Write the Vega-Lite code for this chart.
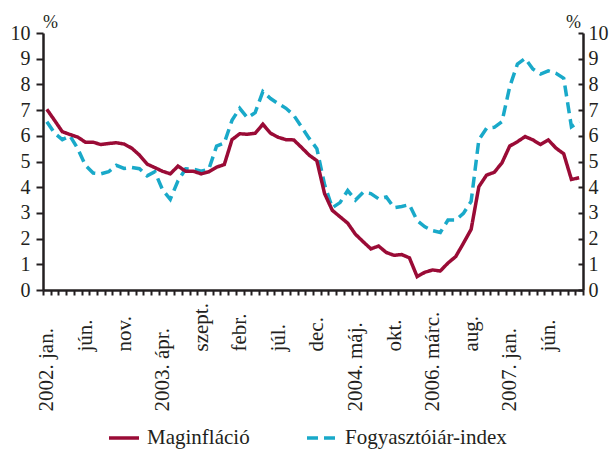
{
  "$schema": "https://vega.github.io/schema/vega-lite/v6.json",
  "width": 540,
  "height": 257,
  "autosize": {"type": "none"},
  "padding": {"left": 43, "top": 33, "right": 32, "bottom": 159},
  "background": "white",
  "config": {
    "view": {"stroke": null},
    "font": "Liberation Serif",
    "axis": {"labelFont": "Liberation Serif", "titleFont": "Liberation Serif", "labelColor": "#231f20", "titleColor": "#231f20", "domainColor": "#231f20", "tickColor": "#231f20", "grid": false},
    "legend": {"labelFont": "Liberation Serif", "labelColor": "#231f20"}
  },
  "data": {"values": [
    {"i":0,"s":"M","v":7.03},{"i":1,"s":"M","v":6.6},{"i":2,"s":"M","v":6.16},{"i":3,"s":"M","v":6.05},{"i":4,"s":"M","v":5.95},{"i":5,"s":"M","v":5.75},{"i":6,"s":"M","v":5.75},{"i":7,"s":"M","v":5.66},{"i":8,"s":"M","v":5.7},{"i":9,"s":"M","v":5.73},
    {"i":10,"s":"M","v":5.68},{"i":11,"s":"M","v":5.52},{"i":12,"s":"M","v":5.25},{"i":13,"s":"M","v":4.9},{"i":14,"s":"M","v":4.76},{"i":15,"s":"M","v":4.62},{"i":16,"s":"M","v":4.52},{"i":17,"s":"M","v":4.82},{"i":18,"s":"M","v":4.62},{"i":19,"s":"M","v":4.62},
    {"i":20,"s":"M","v":4.52},{"i":21,"s":"M","v":4.6},{"i":22,"s":"M","v":4.78},{"i":23,"s":"M","v":4.88},{"i":24,"s":"M","v":5.85},{"i":25,"s":"M","v":6.08},{"i":26,"s":"M","v":6.06},{"i":27,"s":"M","v":6.1},{"i":28,"s":"M","v":6.45},{"i":29,"s":"M","v":6.1},
    {"i":30,"s":"M","v":5.94},{"i":31,"s":"M","v":5.85},{"i":32,"s":"M","v":5.84},{"i":33,"s":"M","v":5.55},{"i":34,"s":"M","v":5.25},{"i":35,"s":"M","v":5.03},{"i":36,"s":"M","v":3.75},{"i":37,"s":"M","v":3.1},{"i":38,"s":"M","v":2.85},{"i":39,"s":"M","v":2.6},
    {"i":40,"s":"M","v":2.17},{"i":41,"s":"M","v":1.88},{"i":42,"s":"M","v":1.6},{"i":43,"s":"M","v":1.71},{"i":44,"s":"M","v":1.46},{"i":45,"s":"M","v":1.35},{"i":46,"s":"M","v":1.38},{"i":47,"s":"M","v":1.25},{"i":48,"s":"M","v":0.52},{"i":49,"s":"M","v":0.69},
    {"i":50,"s":"M","v":0.78},{"i":51,"s":"M","v":0.74},{"i":52,"s":"M","v":1.05},{"i":53,"s":"M","v":1.3},{"i":54,"s":"M","v":1.82},{"i":55,"s":"M","v":2.36},{"i":56,"s":"M","v":4.02},{"i":57,"s":"M","v":4.47},{"i":58,"s":"M","v":4.58},{"i":59,"s":"M","v":4.95},
    {"i":60,"s":"M","v":5.6},{"i":61,"s":"M","v":5.77},{"i":62,"s":"M","v":5.97},{"i":63,"s":"M","v":5.84},{"i":64,"s":"M","v":5.66},{"i":65,"s":"M","v":5.84},{"i":66,"s":"M","v":5.52},{"i":67,"s":"M","v":5.3},{"i":68,"s":"M","v":4.3},{"i":69,"s":"M","v":4.37},
    {"i":0,"s":"F","v":6.55},{"i":1,"s":"F","v":6.1},{"i":2,"s":"F","v":5.85},{"i":3,"s":"F","v":6.0},{"i":4,"s":"F","v":5.5},{"i":5,"s":"F","v":4.85},{"i":6,"s":"F","v":4.55},{"i":7,"s":"F","v":4.52},{"i":8,"s":"F","v":4.6},{"i":9,"s":"F","v":4.85},
    {"i":10,"s":"F","v":4.73},{"i":11,"s":"F","v":4.77},{"i":12,"s":"F","v":4.72},{"i":13,"s":"F","v":4.44},{"i":14,"s":"F","v":4.6},{"i":15,"s":"F","v":3.9},{"i":16,"s":"F","v":3.53},{"i":17,"s":"F","v":4.25},{"i":18,"s":"F","v":4.72},{"i":19,"s":"F","v":4.7},
    {"i":20,"s":"F","v":4.62},{"i":21,"s":"F","v":4.7},{"i":22,"s":"F","v":5.6},{"i":23,"s":"F","v":5.72},{"i":24,"s":"F","v":6.6},{"i":25,"s":"F","v":7.07},{"i":26,"s":"F","v":6.7},{"i":27,"s":"F","v":6.9},{"i":28,"s":"F","v":7.72},{"i":29,"s":"F","v":7.45},
    {"i":30,"s":"F","v":7.25},{"i":31,"s":"F","v":7.07},{"i":32,"s":"F","v":6.8},{"i":33,"s":"F","v":6.35},{"i":34,"s":"F","v":5.9},{"i":35,"s":"F","v":5.5},{"i":36,"s":"F","v":4.1},{"i":37,"s":"F","v":3.2},{"i":38,"s":"F","v":3.4},{"i":39,"s":"F","v":3.87},
    {"i":40,"s":"F","v":3.5},{"i":41,"s":"F","v":3.8},{"i":42,"s":"F","v":3.75},{"i":43,"s":"F","v":3.55},{"i":44,"s":"F","v":3.62},{"i":45,"s":"F","v":3.2},{"i":46,"s":"F","v":3.25},{"i":47,"s":"F","v":3.32},{"i":48,"s":"F","v":2.7},{"i":49,"s":"F","v":2.46},
    {"i":50,"s":"F","v":2.31},{"i":51,"s":"F","v":2.24},{"i":52,"s":"F","v":2.72},{"i":53,"s":"F","v":2.72},{"i":54,"s":"F","v":2.98},{"i":55,"s":"F","v":3.45},{"i":56,"s":"F","v":5.85},{"i":57,"s":"F","v":6.29},{"i":58,"s":"F","v":6.33},{"i":59,"s":"F","v":6.55},
    {"i":60,"s":"F","v":7.91},{"i":61,"s":"F","v":8.79},{"i":62,"s":"F","v":9.01},{"i":63,"s":"F","v":8.6},{"i":64,"s":"F","v":8.4},{"i":65,"s":"F","v":8.53},{"i":66,"s":"F","v":8.43},{"i":67,"s":"F","v":8.24},{"i":68,"s":"F","v":6.35},{"i":69,"s":"F","v":6.55}
  ]},
  "encoding": {
    "x": {
      "field": "i", "type": "ordinal",
      "scale": {"type": "band", "paddingInner": 0, "paddingOuter": 0},
      "axis": {
        "title": null,
        "tickBand": "extent",
        "tickSize": 5, "tickWidth": 2, "domainWidth": 2.5,
        "labelAngle": -90, "labelAlign": "left", "labelBaseline": "middle",
        "labelFontSize": 21, "labelOverlap": false, "labelFlush": false, "labelBound": false, "labelLimit": 0,
        "labelPadding": {"condition": {"test": "datum.value == 0 || datum.value == 15 || datum.value == 40 || datum.value == 50 || datum.value == 60", "value": 116}, "value": 56},
        "labelExpr": "datum.value % 5 == 0 ? ['2002. jan.','jún.','nov.','2003. ápr.','szept.','febr.','júl.','dec.','2004. máj.','okt.','2006. márc.','aug.','2007. jan.','jún.'][datum.value / 5] : ''"
      }
    },
    "color": {
      "field": "s", "type": "nominal",
      "scale": {"domain": ["M", "F"], "range": ["#9a0b36", "#19a9c9"]},
      "legend": {
        "title": null, "orient": "none", "direction": "horizontal",
        "legendX": 64, "legendY": 388, "padding": 0,
        "symbolType": "stroke", "symbolSize": 900, "symbolStrokeWidth": 3.5,
        "labelFontSize": 21, "labelOffset": 6, "columnPadding": 50, "labelLimit": 0,
        "labelExpr": "datum.value == 'M' ? 'Maginfláció' : 'Fogyasztóiár-index'"
      }
    },
    "strokeDash": {
      "field": "s", "type": "nominal",
      "scale": {"domain": ["M", "F"], "range": [[1, 0], [11, 6]]},
      "legend": null
    }
  },
  "layer": [
    {
      "transform": [{"filter": "datum.s == 'F'"}],
      "mark": {"type": "line", "strokeWidth": 3.5},
      "encoding": {
        "y": {
          "field": "v", "type": "quantitative",
          "scale": {"domain": [0, 10], "nice": false},
          "axis": {
            "orient": "right", "values": [0,1,2,3,4,5,6,7,8,9,10],
            "tickSize": -5, "tickWidth": 2, "domainWidth": 2.5, "labelPadding": 10,
            "labelFontSize": 20, "labelFlush": false,
            "title": "%", "titleAngle": 0, "titleX": -10, "titleY": -6,
            "titleAlign": "center", "titleBaseline": "alphabetic", "titleFontSize": 18, "titleFontWeight": "normal"
          }
        }
      }
    },
    {
      "transform": [{"filter": "datum.s == 'M'"}],
      "mark": {"type": "line", "strokeWidth": 3.5},
      "encoding": {
        "y": {
          "field": "v", "type": "quantitative",
          "scale": {"domain": [0, 10], "nice": false},
          "axis": {
            "orient": "left", "values": [0,1,2,3,4,5,6,7,8,9,10],
            "tickSize": 7, "tickWidth": 2, "domainWidth": 2.5, "labelPadding": 6,
            "labelFontSize": 20, "labelFlush": false,
            "title": "%", "titleAngle": 0, "titleX": 7, "titleY": -6,
            "titleAlign": "center", "titleBaseline": "alphabetic", "titleFontSize": 18, "titleFontWeight": "normal"
          }
        }
      }
    }
  ],
  "resolve": {"axis": {"y": "independent"}}
}
